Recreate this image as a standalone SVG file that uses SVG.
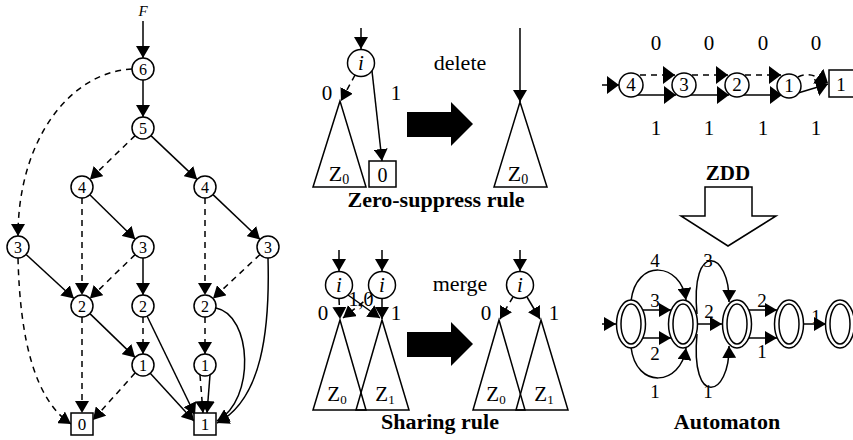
<svg xmlns="http://www.w3.org/2000/svg" width="853" height="440" viewBox="0 0 853 440" font-family="Liberation Serif, DejaVu Serif, serif">
<defs>
<style>
text, tspan{font-family:"Liberation Serif","DejaVu Serif","Times New Roman",serif;fill:#000}
.n{font-size:16px;text-anchor:middle}
.lb{font-size:21px;text-anchor:middle}
.t{font-size:22px;text-anchor:middle;font-weight:bold}
.c{fill:#fff;stroke:#000;stroke-width:1.5}
.s{fill:none;stroke:#000;stroke-width:1.5;marker-end:url(#ah)}
.d{fill:none;stroke:#000;stroke-width:1.5;stroke-dasharray:6,5;marker-end:url(#ah)}
.sL{fill:none;stroke:#000;stroke-width:1.5;marker-end:url(#ahL)}
.dL{fill:none;stroke:#000;stroke-width:1.5;stroke-dasharray:6,5;marker-end:url(#ahL)}
.tri{fill:none;stroke:#000;stroke-width:1.5}
.big{fill:#000}
</style>
<marker id="ah" viewBox="0 0 12 14" refX="12" refY="7" markerWidth="12" markerHeight="14" orient="auto" markerUnits="userSpaceOnUse"><path d="M0,0 L12,7 L0,14 z" fill="#000"/></marker>
<marker id="ahL" viewBox="0 0 12 18" refX="12" refY="9" markerWidth="12" markerHeight="18" orient="auto" markerUnits="userSpaceOnUse"><path d="M0,0 L12,9 L0,18 z" fill="#000"/></marker>
</defs>
<rect width="853" height="440" fill="#fff"/>

<!-- LEFT ZDD connectors -->
<g id="zdd-edges">
<text x="143" y="16" style="font-size:15px;font-style:italic;text-anchor:middle">F</text>
<line class="s" x1="143" y1="21" x2="143" y2="58"/>
<line class="s" x1="143" y1="80" x2="143" y2="117"/>
<path class="d" d="M132,69 C70,72 18,140 18,236"/>
<line class="d" x1="135.1" y1="135.6" x2="89.9" y2="179.4"/>
<line class="s" x1="150.9" y1="135.6" x2="197.1" y2="179.4"/>
<line class="s" x1="89.8" y1="194.7" x2="135.2" y2="239.3"/>
<line class="d" x1="82" y1="198" x2="82" y2="295"/>
<line class="s" x1="26.1" y1="254.5" x2="73.9" y2="298.5"/>
<path class="d" d="M18,258 C20,340 35,400 71,424"/>
<line class="d" x1="135.1" y1="254.6" x2="89.9" y2="298.4"/>
<line class="s" x1="143" y1="258" x2="143" y2="295"/>
<line class="s" x1="213" y1="194.6" x2="260" y2="239.4"/>
<line class="d" x1="205" y1="198" x2="205" y2="295"/>
<line class="d" x1="260" y1="254.5" x2="213" y2="298.5"/>
<path class="s" d="M268,258 C270,330 262,400 217,423"/>
<path class="s" d="M216,308 C252,315 256,400 217,421"/>
<line class="d" x1="82" y1="317" x2="82" y2="413"/>
<line class="s" x1="89.9" y1="313.6" x2="135.1" y2="357.4"/>
<line class="d" x1="143" y1="317" x2="143" y2="354"/>
<line class="s" x1="147" y1="316" x2="195" y2="415"/>
<line class="s" x1="150" y1="373" x2="194" y2="421"/>
<line class="d" x1="135" y1="373" x2="93" y2="420"/>
<line class="d" x1="205" y1="317" x2="205" y2="354"/>
<line class="d" x1="200" y1="375" x2="203" y2="413"/>
<line class="s" x1="210" y1="375" x2="207" y2="413"/>
</g>

<!-- LEFT ZDD nodes -->
<g id="n6"><circle class="c" cx="143" cy="69" r="11"/><text class="n" x="143" y="74.5">6</text></g>
<g id="n5"><circle class="c" cx="143" cy="128" r="11"/><text class="n" x="143" y="133.5">5</text></g>
<g id="n4a"><circle class="c" cx="82" cy="187" r="11"/><text class="n" x="82" y="192.5">4</text></g>
<g id="n4b"><circle class="c" cx="205" cy="187" r="11"/><text class="n" x="205" y="192.5">4</text></g>
<g id="n3a"><circle class="c" cx="18" cy="247" r="11"/><text class="n" x="18" y="252.5">3</text></g>
<g id="n3b"><circle class="c" cx="143" cy="247" r="11"/><text class="n" x="143" y="252.5">3</text></g>
<g id="n3c"><circle class="c" cx="268" cy="247" r="11"/><text class="n" x="268" y="252.5">3</text></g>
<g id="n2a"><circle class="c" cx="82" cy="306" r="11"/><text class="n" x="82" y="311.5">2</text></g>
<g id="n2b"><circle class="c" cx="143" cy="306" r="11"/><text class="n" x="143" y="311.5">2</text></g>
<g id="n2c"><circle class="c" cx="205" cy="306" r="11"/><text class="n" x="205" y="311.5">2</text></g>
<g id="n1a"><circle class="c" cx="143" cy="365" r="11"/><text class="n" x="143" y="370.5">1</text></g>
<g id="n1b"><circle class="c" cx="205" cy="365" r="11"/><text class="n" x="205" y="370.5">1</text></g>
<g id="t0"><rect class="c" x="71" y="413" width="22" height="22"/><text class="n" x="82" y="430" style="font-size:17px">0</text></g>
<g id="t1"><rect class="c" x="194" y="413" width="22" height="22"/><text class="n" x="205" y="430" style="font-size:17px">1</text></g>

<!-- ZERO-SUPPRESS RULE -->
<g id="zs-before">
<line class="s" x1="361" y1="28" x2="361" y2="49"/>
<line class="d" x1="355" y1="75" x2="341" y2="101"/>
<line class="s" x1="372" y1="71" x2="382" y2="161"/>
<circle class="c" cx="361" cy="63" r="13.5"/>
<text x="361" y="70" style="font-size:21px;font-style:italic;text-anchor:middle">i</text>
<text class="lb" x="327" y="100">0</text>
<text class="lb" x="396" y="100">1</text>
<path class="tri" d="M340,101 L313,187 L366,187 Z"/>
<text x="339" y="181" style="font-size:22px;text-anchor:middle">Z<tspan style="font-size:14px" dy="3">0</tspan></text>
<rect class="c" x="369" y="161" width="27" height="26"/>
<text x="382.5" y="182" style="font-size:20px;text-anchor:middle">0</text>
</g>
<g id="zs-arrow">
<text class="lb" x="460" y="70" style="font-size:22px">delete</text>
<path class="big" d="M407,112 L451,112 L451,102 L473,124 L451,146 L451,137 L407,137 Z"/>
</g>
<g id="zs-after">
<line class="s" x1="520" y1="28" x2="520" y2="102"/>
<path class="tri" d="M520,102 L494,187 L547,187 Z"/>
<text x="518" y="181" style="font-size:22px;text-anchor:middle">Z<tspan style="font-size:14px" dy="3">0</tspan></text>
</g>
<text class="t" x="436" y="207">Zero-suppress rule</text>

<!-- SHARING RULE -->
<g id="sh-before">
<line class="s" x1="339" y1="250" x2="339" y2="271"/>
<line class="s" x1="382" y1="250" x2="382" y2="271"/>
<path class="tri" d="M340,320 L313,410 L366,410 Z"/>
<path class="tri" d="M382,320 L356,410 L409,410 Z"/>
<line class="d" x1="339" y1="299" x2="340" y2="319"/>
<line class="d" x1="372" y1="295" x2="343" y2="318"/>
<line class="s" x1="348" y1="295" x2="380" y2="318"/>
<line class="s" x1="382" y1="299" x2="382" y2="319"/>
<circle class="c" cx="339" cy="285" r="13.5"/>
<text x="339" y="292" style="font-size:21px;font-style:italic;text-anchor:middle">i</text>
<circle class="c" cx="382" cy="285" r="13.5"/>
<text x="382" y="292" style="font-size:21px;font-style:italic;text-anchor:middle">i</text>
<text class="lb" x="323" y="320">0</text>
<text class="lb" x="396" y="320">1</text>
<text class="lb" x="361" y="306" style="font-size:20px">1,0</text>
<text x="337" y="401" style="font-size:21px;text-anchor:middle">Z<tspan style="font-size:13px" dy="3">0</tspan></text>
<text x="385" y="401" style="font-size:21px;text-anchor:middle">Z<tspan style="font-size:13px" dy="3">1</tspan></text>
</g>
<g id="sh-arrow">
<text class="lb" x="460" y="291" style="font-size:22px">merge</text>
<path class="big" d="M407,332 L451,332 L451,322 L473,344 L451,366 L451,357 L407,357 Z"/>
</g>
<g id="sh-after">
<line class="s" x1="520" y1="250" x2="520" y2="271"/>
<line class="d" x1="513" y1="297" x2="500" y2="319"/>
<line class="s" x1="527" y1="297" x2="540" y2="319"/>
<circle class="c" cx="520" cy="285" r="13.5"/>
<text x="520" y="292" style="font-size:21px;font-style:italic;text-anchor:middle">i</text>
<text class="lb" x="486" y="320">0</text>
<text class="lb" x="554" y="320">1</text>
<path class="tri" d="M499,320 L473,410 L525,410 Z"/>
<path class="tri" d="M541,320 L516,410 L568,410 Z"/>
<text x="496" y="401" style="font-size:21px;text-anchor:middle">Z<tspan style="font-size:13px" dy="3">0</tspan></text>
<text x="544" y="401" style="font-size:21px;text-anchor:middle">Z<tspan style="font-size:13px" dy="3">1</tspan></text>
</g>
<text class="t" x="440" y="429">Sharing rule</text>

<!-- CHAIN ZDD (top right) -->
<g id="chain-edges">
<line class="sL" x1="602" y1="85" x2="619" y2="85"/>
<line class="dL" x1="640" y1="75" x2="675" y2="75"/>
<line class="sL" x1="636" y1="95" x2="676" y2="95"/>
<line class="dL" x1="692" y1="75" x2="728" y2="75"/>
<line class="sL" x1="688" y1="95" x2="729" y2="95"/>
<line class="dL" x1="745" y1="75" x2="781" y2="75"/>
<line class="sL" x1="741" y1="95" x2="782" y2="95"/>
<path class="dL" d="M798,77 C808,72 818,76 828,83"/>
<line class="sL" x1="798" y1="93" x2="828" y2="84"/>
</g>
<g id="c4"><circle class="c" cx="631" cy="85" r="12"/><text class="n" x="631" y="91" style="font-size:19px">4</text></g>
<g id="c3"><circle class="c" cx="684" cy="85" r="12"/><text class="n" x="684" y="91" style="font-size:19px">3</text></g>
<g id="c2"><circle class="c" cx="737" cy="85" r="12"/><text class="n" x="737" y="91" style="font-size:19px">2</text></g>
<g id="c1"><circle class="c" cx="789" cy="86" r="12"/><text class="n" x="789" y="92" style="font-size:19px">1</text></g>
<g id="cT"><rect class="c" x="829" y="70" width="26" height="27"/><text class="n" x="841" y="91" style="font-size:19px">1</text></g>
<g id="chain-labels">
<text class="lb" x="656" y="50">0</text><text class="lb" x="709" y="50">0</text><text class="lb" x="763" y="50">0</text><text class="lb" x="816" y="50">0</text>
<text class="lb" x="656" y="135">1</text><text class="lb" x="709" y="135">1</text><text class="lb" x="763" y="135">1</text><text class="lb" x="816" y="135">1</text>
</g>

<!-- ZDD hollow arrow -->
<g id="zdd-arrow">
<text class="t" x="728" y="180" style="font-size:21px">ZDD</text>
<path d="M705,187 L752,187 L752,216 L776,216 L728,246 L681,216 L705,216 Z" fill="#fff" stroke="#000" stroke-width="1.5"/>
</g>

<!-- AUTOMATON -->
<g id="auto-edges">
<line class="s" x1="602" y1="324" x2="616" y2="324"/>
<line class="s" x1="643" y1="310" x2="671" y2="310"/>
<line class="s" x1="643" y1="338" x2="671" y2="338"/>
<path class="s" d="M631,301 C636,258 681,262 686,300"/>
<path class="s" d="M631,347 C636,390 681,386 686,348"/>
<line class="s" x1="698" y1="324" x2="722" y2="324"/>
<path class="s" d="M697,314 C690,240 730,250 729,302"/>
<path class="s" d="M697,334 C690,408 730,398 729,346"/>
<line class="s" x1="749" y1="310" x2="777" y2="310"/>
<line class="s" x1="749" y1="338" x2="777" y2="338"/>
<line class="s" x1="804" y1="324" x2="826" y2="324"/>
<text x="655" y="267" style="font-size:19px;text-anchor:middle">4</text>
<text x="655" y="307" style="font-size:19px;text-anchor:middle">3</text>
<text x="655" y="360" style="font-size:19px;text-anchor:middle">2</text>
<text x="655" y="398" style="font-size:19px;text-anchor:middle">1</text>
<text x="708" y="267" style="font-size:19px;text-anchor:middle">3</text>
<text x="709" y="318" style="font-size:19px;text-anchor:middle">2</text>
<text x="708" y="398" style="font-size:19px;text-anchor:middle">1</text>
<text x="762" y="307" style="font-size:19px;text-anchor:middle">2</text>
<text x="762" y="358" style="font-size:19px;text-anchor:middle">1</text>
<text x="816" y="323" style="font-size:19px;text-anchor:middle">1</text>
</g>
<g id="s1"><ellipse class="c" cx="631" cy="324" rx="14.5" ry="24"/><ellipse class="c" cx="631" cy="324" rx="10" ry="20"/></g>
<g id="s2"><ellipse class="c" cx="683" cy="324" rx="14.5" ry="24"/><ellipse class="c" cx="683" cy="324" rx="10" ry="20"/></g>
<g id="s3"><ellipse class="c" cx="737" cy="324" rx="14.5" ry="24"/><ellipse class="c" cx="737" cy="324" rx="10" ry="20"/></g>
<g id="s4"><ellipse class="c" cx="789" cy="324" rx="14.5" ry="24"/><ellipse class="c" cx="789" cy="324" rx="10" ry="20"/></g>
<g id="s5"><ellipse class="c" cx="840" cy="324" rx="14.5" ry="24"/><ellipse class="c" cx="840" cy="324" rx="10" ry="20"/></g>
<text class="t" x="727" y="429">Automaton</text>
</svg>
